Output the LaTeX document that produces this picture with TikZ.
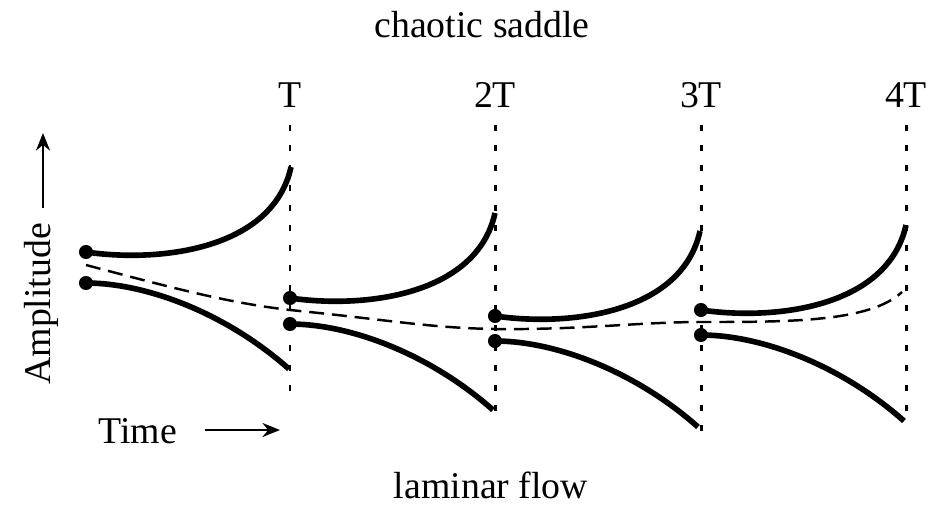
\documentclass[tikz,border=0pt]{standalone}
\usepackage{fontspec}
\setmainfont{Liberation Serif}
\usepackage{tikz}
\usetikzlibrary{arrows.meta}

\begin{document}
\begin{tikzpicture}[
  x=0.02cm, y=-0.02cm,
  lbl/.style={inner sep=0pt, font=\fontsize{21.5}{26}\selectfont},
  orbit/.style={line width=3.2pt},
  period/.style={line width=1.7pt, dash pattern=on 3.4pt off 8pt},
  guide/.style={line width=1.4pt, dash pattern=on 8.5pt off 4.5pt},
  arr/.style={-{Stealth[length=10pt,width=8pt]}, line width=1.4pt}
]
\useasboundingbox (0,0) rectangle (945,507);

% labels
\node[lbl, anchor=base] (saddle) at (482,37) {chaotic saddle};
\node[lbl, anchor=base] (laminar) at (491,498) {laminar flow};
\node[lbl, anchor=base west] (time) at (98,443) {Time};
\node[lbl, anchor=base west, rotate=90] (amp) at (50,385) {Amplitude};

\coordinate (t0) at (205,430);
\coordinate (t1) at (280,430);
\coordinate (a0) at (43,208);
\coordinate (a1) at (43,133);
\draw[arr] (t0) -- (t1);
\draw[arr] (a0) -- (a1);

% periods
\node[lbl, anchor=base] (p1) at (290,107) {T};
\node[lbl, anchor=base] (p2) at (495,107) {2T};
\node[lbl, anchor=base] (p3) at (701,107) {3T};
\node[lbl, anchor=base] (p4) at (906,107) {4T};
\draw[period] (290,125) -- (290,394);
\draw[period] (495,125) -- (495,414);
\draw[period] (701,125) -- (701,436);
\draw[period] (906,125) -- (906,424);

% trajectories near the saddle
\foreach \x/\yu/\yl [count=\i] in {86/252/283, 290/298/324, 495/316/341, 701/310/335}{
  \coordinate (up\i) at (\x,\yu);
  \coordinate (lo\i) at (\x,\yl);
  \draw[orbit] (up\i) .. controls +(75,11) and +(-18,82) .. ++(205,-85);
  \draw[orbit] (lo\i) .. controls +(60,0) and +(-63,-56) .. ++(203,86);
  \fill (up\i) circle (4pt);
  \fill (lo\i) circle (4pt);
}

% stable manifold
\draw[guide] (86,265) .. controls (180,290) and (230,303) .. (290,310)
  .. controls (390,320) and (430,328) .. (495,329)
  .. controls (580,330) and (640,322) .. (701,322)
  .. controls (790,322) and (870,322) .. (902,292);
\end{tikzpicture}
\end{document}
